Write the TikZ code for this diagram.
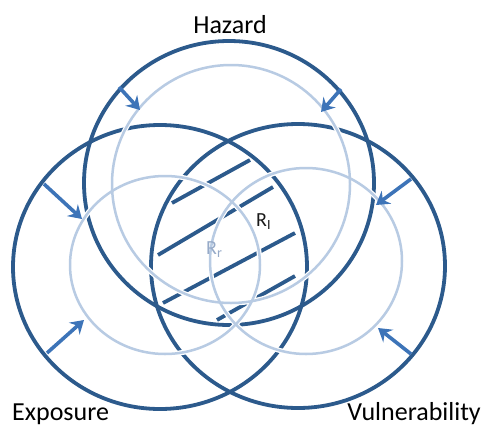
\documentclass[tikz,border=0pt]{standalone}
\usepackage{fontspec}
\setmainfont{Carlito}
\usetikzlibrary{arrows.meta}
\definecolor{darkb}{RGB}{44,90,140}
\definecolor{arrowb}{RGB}{61,116,184}
\definecolor{lightb}{RGB}{184,203,227}
\definecolor{rrtext}{RGB}{150,170,200}
\tikzset{
  darkring/.style={draw=darkb, line width=3.8pt},
  lightcase/.style={draw=white, line width=5pt},
  lightring/.style={draw=lightb, line width=2.5pt},
  hatchline/.style={draw=darkb, line width=3.8pt},
  shrink/.style={draw=arrowb, line width=3.6pt, -{Stealth[length=13pt,width=16pt,inset=4.5pt]}},
  bigtext/.style={font=\fontsize{26}{30}\selectfont, inner sep=0pt},
  risktext/.style={font=\fontsize{20}{23}\selectfont, inner sep=0pt}
}
\begin{document}
\begin{tikzpicture}[x=1pt,y=-1pt]
\useasboundingbox (0,0) rectangle (482,426);
% dark circles
\draw[darkring] (229,183) ellipse [x radius=145, y radius=142];
\draw[darkring] (160,267) ellipse [x radius=147, y radius=142];
\draw[darkring] (298,266) ellipse [x radius=147, y radius=142];
% hatch lines
\coordinate (h1a) at (172,203); \coordinate (h1b) at (250,160);
\coordinate (h2a) at (158,255); \coordinate (h2b) at (273,187);
\coordinate (h3a) at (163,303); \coordinate (h3b) at (295,233);
\coordinate (h4a) at (217,320); \coordinate (h4b) at (295,276);
\draw[hatchline] (h1a) -- (h1b);
\draw[hatchline] (h2a) -- (h2b);
\draw[hatchline] (h3a) -- (h3b);
\draw[hatchline] (h4a) -- (h4b);
% light circles with white casing
\draw[lightcase] (231,184) ellipse [x radius=119, y radius=119];
\draw[lightcase] (165,265) ellipse [x radius=95, y radius=89];
\draw[lightcase] (306,261) ellipse [x radius=96, y radius=93];
\draw[lightring] (231,184) ellipse [x radius=119, y radius=119];
\draw[lightring] (165,265) ellipse [x radius=95, y radius=89];
\draw[lightring] (306,261) ellipse [x radius=96, y radius=93];
% arrows
\coordinate (ha1) at (119,87);  \coordinate (ht1) at (140,110);
\coordinate (ha2) at (341,89);  \coordinate (ht2) at (321,112);
\coordinate (ea1) at (44,184);  \coordinate (et1) at (82,219);
\coordinate (ea2) at (47,353);  \coordinate (et2) at (84,320);
\coordinate (va1) at (411,179); \coordinate (vt1) at (376,205);
\coordinate (va2) at (411,354); \coordinate (vt2) at (378,328);
\draw[shrink] (ha1) -- (ht1);
\draw[shrink] (ha2) -- (ht2);
\draw[shrink] (ea1) -- (et1);
\draw[shrink] (ea2) -- (et2);
\draw[shrink] (va1) -- (vt1);
\draw[shrink] (va2) -- (vt2);
% labels
\node[bigtext, anchor=base] (hazard) at (230,33) {Hazard};
\node[bigtext, anchor=base west] (exposure) at (12,420) {Exposure};
\node[bigtext, anchor=base east] (vuln) at (481,420) {Vulnerability};
\node[risktext, anchor=base west, text=black!90] (ri) at (256,226) {R\textsubscript{I}};
\node[risktext, anchor=base west, text=rrtext] (rr) at (206,254) {R\textsubscript{r}};
\end{tikzpicture}
\end{document}
